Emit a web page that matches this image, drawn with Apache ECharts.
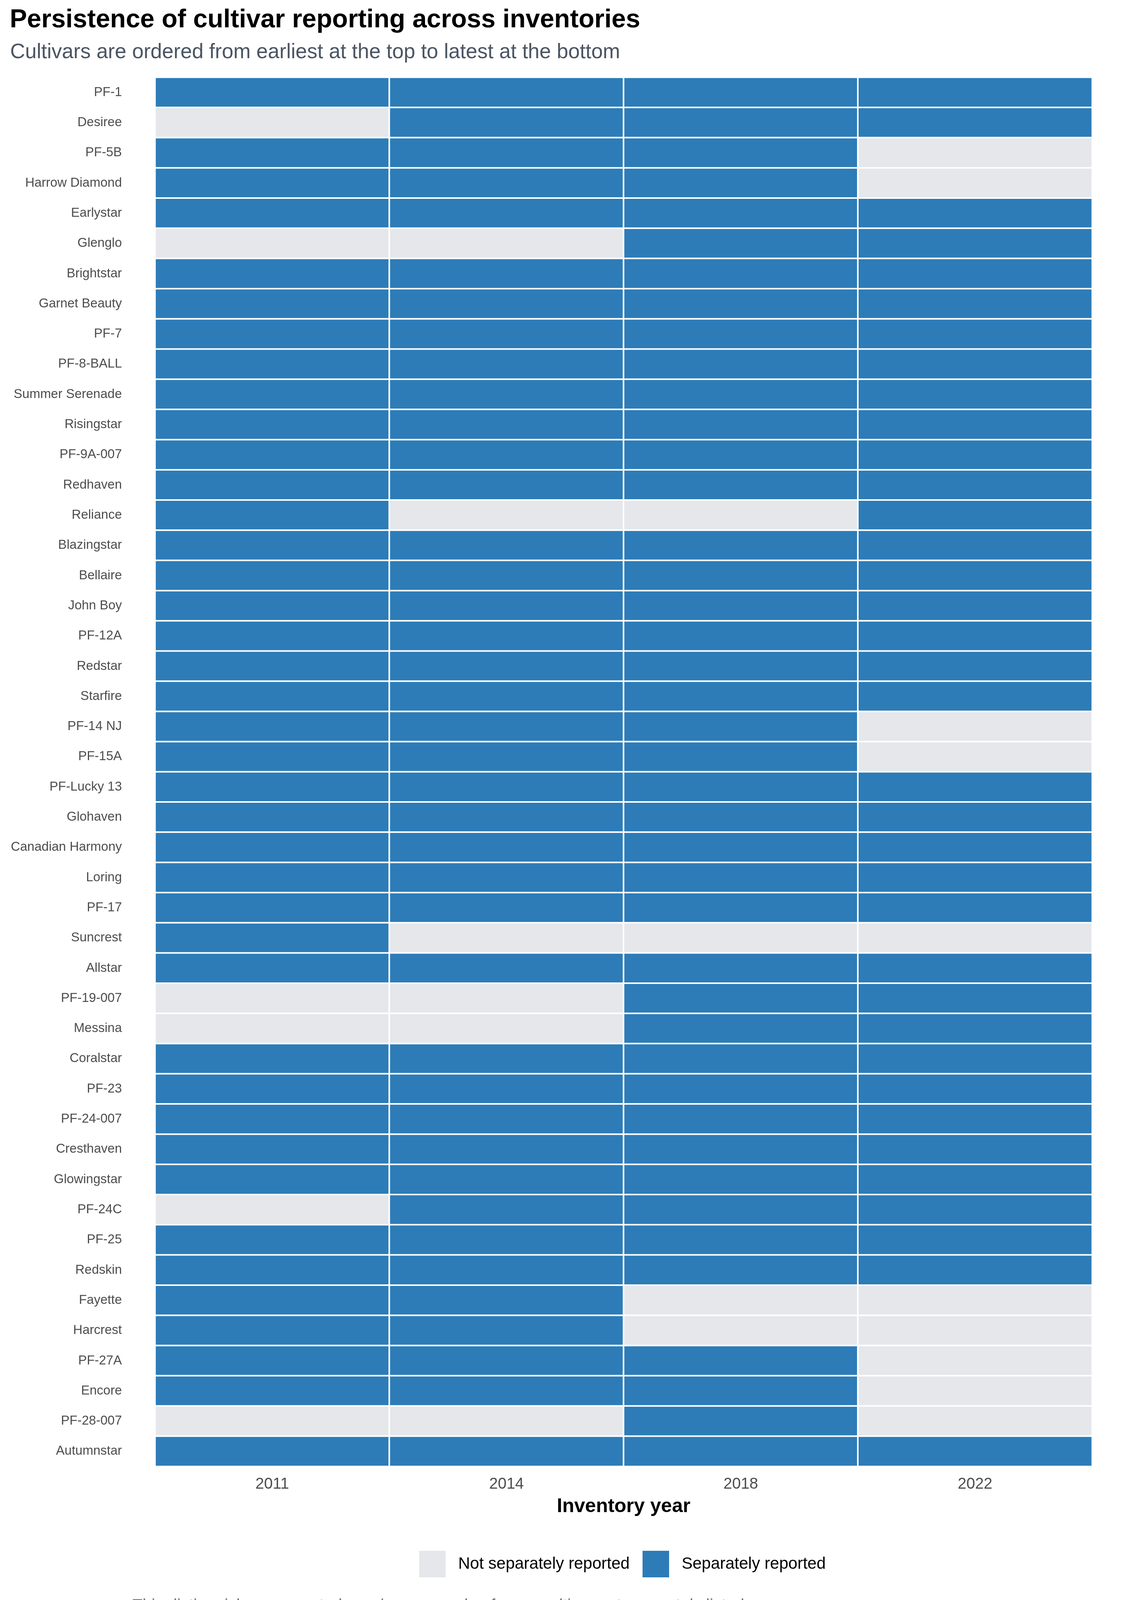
<!DOCTYPE html>
<html>
<head>
<meta charset="utf-8">
<script src="https://cdn.jsdelivr.net/npm/echarts@6/dist/echarts.min.js"></script>
<style>
html,body{margin:0;padding:0;background:#fff;}
#chart{width:2880px;height:4160px;}
</style>
</head>
<body>
<div id="chart"></div>
<script>
const years = ['2011', '2014', '2018', '2022'];
const cultivars = ['PF-1','Desiree','PF-5B','Harrow Diamond','Earlystar','Glenglo','Brightstar','Garnet Beauty','PF-7','PF-8-BALL','Summer Serenade','Risingstar','PF-9A-007','Redhaven','Reliance','Blazingstar','Bellaire','John Boy','PF-12A','Redstar','Starfire','PF-14 NJ','PF-15A','PF-Lucky 13','Glohaven','Canadian Harmony','Loring','PF-17','Suncrest','Allstar','PF-19-007','Messina','Coralstar','PF-23','PF-24-007','Cresthaven','Glowingstar','PF-24C','PF-25','Redskin','Fayette','Harcrest','PF-27A','Encore','PF-28-007','Autumnstar'];
// 1 = separately reported, 0 = not separately reported (one entry per cultivar, top to bottom)
const reported2011 = [1,0,1,1,1,0,1,1,1,1,1,1,1,1,1,1,1,1,1,1,1,1,1,1,1,1,1,1,1,1,0,0,1,1,1,1,1,0,1,1,1,1,1,1,0,1];
const reported2014 = [1,1,1,1,1,0,1,1,1,1,1,1,1,1,0,1,1,1,1,1,1,1,1,1,1,1,1,1,0,1,0,0,1,1,1,1,1,1,1,1,1,1,1,1,0,1];
const reported2018 = [1,1,1,1,1,1,1,1,1,1,1,1,1,1,0,1,1,1,1,1,1,1,1,1,1,1,1,1,0,1,1,1,1,1,1,1,1,1,1,1,0,0,1,1,1,1];
const reported2022 = [1,1,0,0,1,1,1,1,1,1,1,1,1,1,1,1,1,1,1,1,1,0,0,1,1,1,1,1,0,1,1,1,1,1,1,1,1,1,1,1,0,0,0,0,0,1];
const statusLabels = ['Not separately reported', 'Separately reported'];

const byYear = [reported2011, reported2014, reported2018, reported2022];
const heatData = [];
byYear.forEach((col, xi) => col.forEach((v, yi) => heatData.push([xi, yi, v])));

const FONT = "'Liberation Sans', Arial, Helvetica, sans-serif";
const chart = echarts.init(document.getElementById('chart'), null, {renderer: 'canvas'});
chart.setOption({
  backgroundColor: '#ffffff',
  animation: false,
  title: [
    {text: 'Persistence of cultivar reporting across inventories', left: 20, top: 14,
     textStyle: {fontFamily: FONT, fontSize: 66, fontWeight: 'bold', color: '#000000'}},
    {text: 'Cultivars are ordered from earliest at the top to latest at the bottom', left: 21, top: 103,
     textStyle: {fontFamily: FONT, fontSize: 53, fontWeight: 'normal', color: '#4b5563'}},
    {text: 'This distinguishes a reported zero/acreage value from a cultivar not separately listed.', left: 334, top: 4085,
     textStyle: {fontFamily: FONT, fontSize: 42, fontWeight: 'normal', color: '#6b7280'}}
  ],
  grid: {left: 397, right: 84, top: 198, bottom: 406, containLabel: false},
  xAxis: {
    type: 'category', data: years, position: 'bottom',
    axisLine: {show: false}, axisTick: {show: false}, splitLine: {show: false}, splitArea: {show: false},
    axisLabel: {fontFamily: FONT, fontSize: 40, color: '#4d4d4d', margin: 26},
    name: 'Inventory year', nameLocation: 'middle', nameGap: 78,
    nameTextStyle: {fontFamily: FONT, fontSize: 50, fontWeight: 'bold', color: '#000000'}
  },
  yAxis: {
    type: 'category', data: cultivars, inverse: true,
    axisLine: {show: false}, axisTick: {show: false}, splitLine: {show: false}, splitArea: {show: false},
    axisLabel: {fontFamily: FONT, fontSize: 33, color: '#4d4d4d', margin: 85}
  },
  visualMap: {
    type: 'piecewise', orient: 'horizontal', left: 1073, top: 3970,
    itemWidth: 68, itemHeight: 68, itemGap: 33, textGap: 32, itemSymbol: 'rect',
    showLabel: true, selectedMode: false, padding: 0,
    textStyle: {fontFamily: FONT, fontSize: 42, color: '#000000'},
    dimension: 2, seriesIndex: 0,
    pieces: [
      {value: 0, label: statusLabels[0], color: '#e5e7eb'},
      {value: 1, label: statusLabels[1], color: '#2d7cb7'}
    ]
  },
  series: [{
    type: 'heatmap', data: heatData,
    itemStyle: {borderColor: '#ffffff', borderWidth: 4},
    emphasis: {disabled: true}
  }]
});
</script>
</body>
</html>
